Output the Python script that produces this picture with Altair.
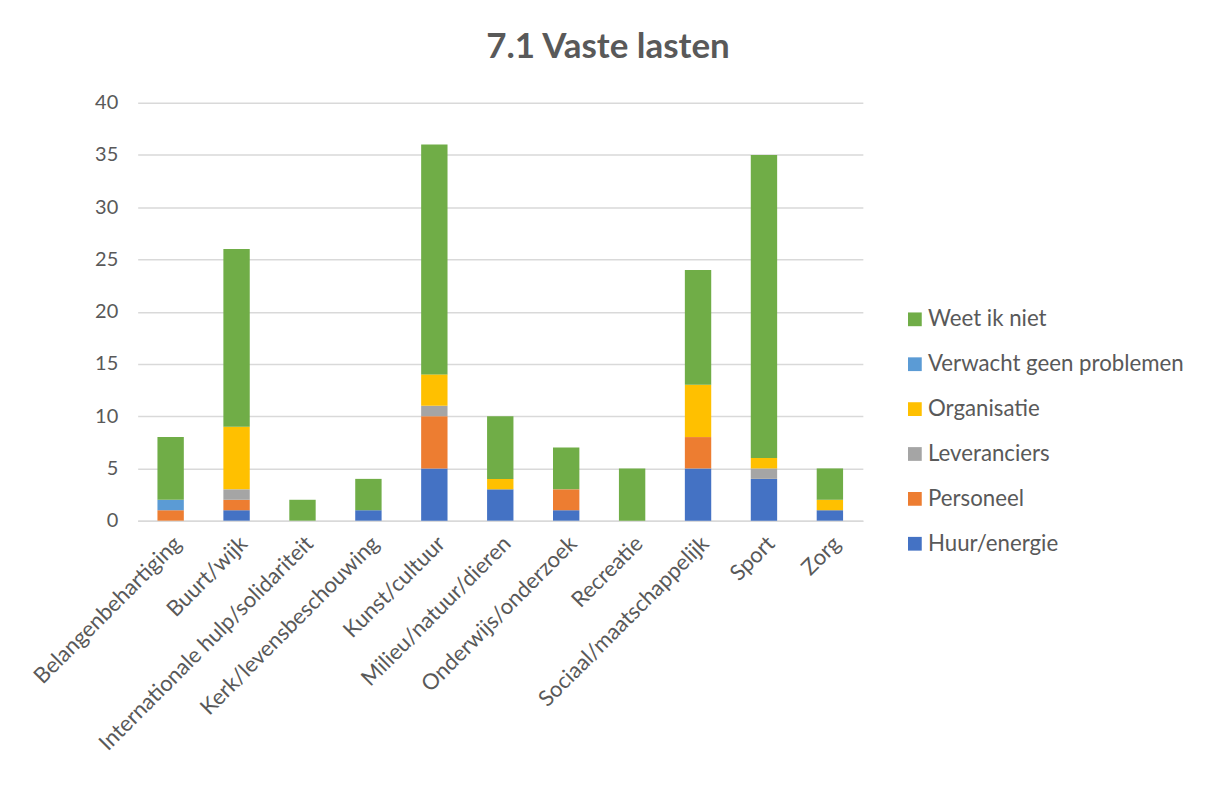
import altair as alt
import pandas as pd

categories = [
    "Belangenbehartiging", "Buurt/wijk", "Internationale hulp/solidariteit",
    "Kerk/levensbeschouwing", "Kunst/cultuur", "Milieu/natuur/dieren",
    "Onderwijs/onderzoek", "Recreatie", "Sociaal/maatschappelijk", "Sport", "Zorg",
]
series = ["Huur/energie", "Personeel", "Leveranciers", "Organisatie",
          "Verwacht geen problemen", "Weet ik niet"]
colors = ["#4472C4", "#ED7D31", "#A5A5A5", "#FFC000", "#5B9BD5", "#70AD47"]

huur = [0, 1, 0, 1, 5, 3, 1, 0, 5, 4, 1]
personeel = [1, 1, 0, 0, 5, 0, 2, 0, 3, 0, 0]
leveranciers = [0, 1, 0, 0, 1, 0, 0, 0, 0, 1, 0]
organisatie = [0, 6, 0, 0, 3, 1, 0, 0, 5, 1, 1]
verwacht = [1, 0, 0, 0, 0, 0, 0, 0, 0, 0, 0]
weet = [6, 17, 2, 3, 22, 6, 4, 5, 11, 29, 3]

values = [huur, personeel, leveranciers, organisatie, verwacht, weet]
rows = []
for si, (s, vals) in enumerate(zip(series, values)):
    for c, v in zip(categories, vals):
        rows.append({"categorie": c, "reeks": s, "aantal": v, "volgorde": si})
df = pd.DataFrame(rows)

FONT = "Lato"
GREY = "#595959"

chart = alt.Chart(df).mark_bar().encode(
    x=alt.X("categorie:N", sort=categories, title=None,
            scale=alt.Scale(paddingInner=0.6, paddingOuter=0.3),
            axis=alt.Axis(labelAngle=-45, labelFontSize=22, labelColor=GREY,
                          labelFont=FONT, ticks=False, domainColor="#d9d9d9",
                          domainWidth=1.5, labelPadding=12, labelLimit=400)),
    y=alt.Y("aantal:Q", stack="zero", title=None,
            scale=alt.Scale(domain=[0, 40]),
            axis=alt.Axis(values=list(range(0, 45, 5)), labelFontSize=20,
                          labelColor=GREY, labelFont=FONT, ticks=False,
                          domain=False, gridColor="#d9d9d9", gridWidth=1.5,
                          labelPadding=20)),
    color=alt.Color("reeks:N",
                    scale=alt.Scale(domain=series[::-1], range=colors[::-1]),
                    legend=alt.Legend(title=None, orient="none", legendX=768,
                                      legendY=206, symbolType="square",
                                      symbolSize=190, symbolStrokeWidth=0,
                                      labelFontSize=22.3, labelFont=FONT,
                                      labelColor=GREY, rowPadding=22,
                                      labelOffset=2, padding=0, labelLimit=400)),
    order=alt.Order("volgorde:Q", sort="ascending"),
).properties(
    width=727, height=419,
    background="white",
    title=alt.TitleParams("7.1 Vaste lasten", fontSize=35, font=FONT,
                          fontWeight="bold", color=GREY, anchor="middle",
                          dx=108, offset=0, baseline="alphabetic"),
    autosize=alt.AutoSizeParams(type="none"),
    padding={"left": 130, "top": 94, "right": 340, "bottom": 250},
).configure_view(stroke=None)

chart.save("out.html", embed_options={"renderer": "svg", "actions": False})
